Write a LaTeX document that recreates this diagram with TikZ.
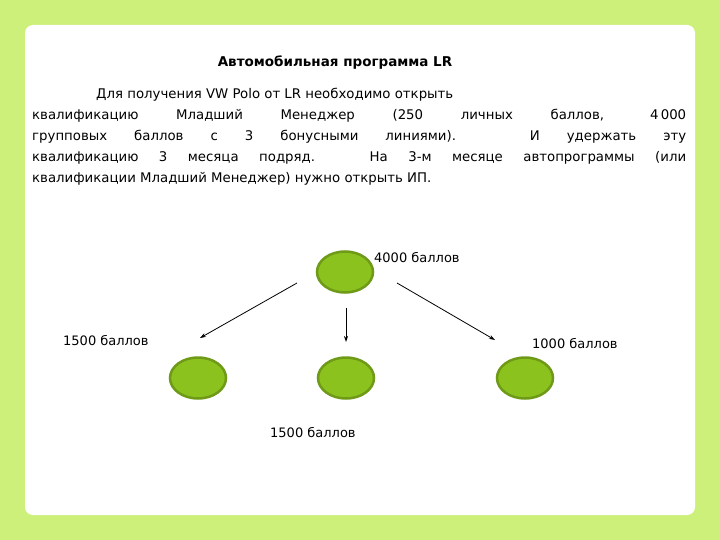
\documentclass[tikz,border=0pt]{standalone}
\usepackage{fontspec}
\setmainfont{DejaVu Sans}
\usetikzlibrary{arrows.meta,shapes.geometric}
\definecolor{bg}{HTML}{CCF07A}
\definecolor{ballf}{HTML}{8CC21E}
\definecolor{balld}{HTML}{6E9A18}
\begin{document}
\begin{tikzpicture}[x=1pt,y=-1pt,
 ball/.style={ellipse,fill=ballf,draw=balld,line width=2.5pt,minimum width=56pt,minimum height=41pt,inner sep=0pt},
 lbl/.style={font=\fontsize{13}{15}\selectfont,inner sep=0pt},
 arr/.style={-{Stealth[length=6pt,width=4pt]},line width=0.8pt}]
\fill[bg] (0,0) rectangle (720,540);
\useasboundingbox (0,0) rectangle (720,540);
\fill[white,rounded corners=8pt] (25,25) rectangle (695,515);
\node[font=\bfseries\fontsize{13.5}{16}\selectfont,anchor=base] (t) at (335,67) {Автомобильная программа LR};
\node[anchor=north west,text width=654pt,align=justify,inner sep=0pt,font=\fontsize{13.3}{21}\selectfont] (p) at (32,88)
{\hspace*{64pt}Для получения VW Polo от LR необходимо открыть\hfill\break
квалификацию Младший Менеджер (250 личных баллов, 4\,000\linebreak
групповых баллов с 3 бонусными линиями). И удержать эту\linebreak
квалификацию 3 месяца подряд. На 3-м месяце автопрограммы (или\linebreak
квалификации Младший Менеджер) нужно открыть ИП.};
\node[ball] (top) at (345,272) {};
\node[ball] (l) at (198,378) {};
\node[ball] (m) at (346,378) {};
\node[ball] (r) at (525,378) {};
\node[lbl,anchor=base west] (lt) at (374,262) {4000 баллов};
\node[lbl,anchor=base west] (ll) at (63,345) {1500 баллов};
\node[lbl,anchor=base west] (lr) at (532,348) {1000 баллов};
\node[lbl,anchor=base west] (lm) at (270,437) {1500 баллов};
\coordinate (a1) at (297,283); \coordinate (b1) at (200,338);
\coordinate (a2) at (346,308); \coordinate (b2) at (346,342);
\coordinate (a3) at (397,283); \coordinate (b3) at (495,340);
\draw[arr] (a1) -- (b1);
\draw[arr] (a2) -- (b2);
\draw[arr] (a3) -- (b3);
\end{tikzpicture}
\end{document}
